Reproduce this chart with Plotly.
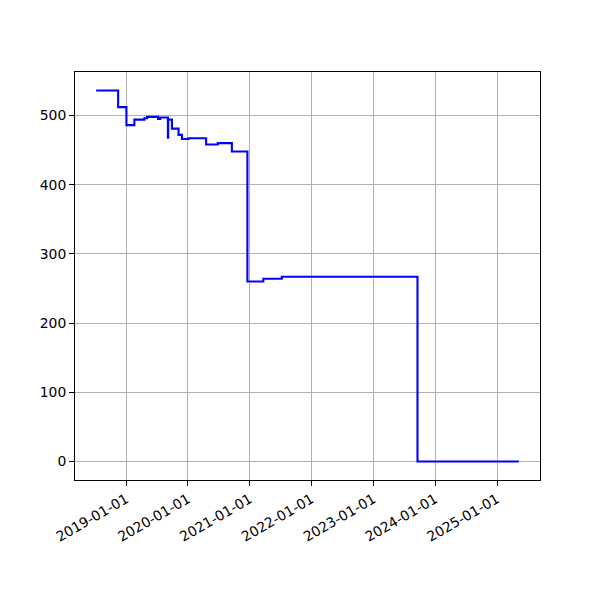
import pandas as pd
import plotly.graph_objects as go

dates = ["2018-07-08", "2018-11-15", "2019-01-03", "2019-02-19", "2019-04-19",
         "2019-05-05", "2019-07-09", "2019-07-22", "2019-09-05", "2019-09-07",
         "2019-09-29", "2019-11-07", "2019-11-27", "2020-01-05", "2020-04-18",
         "2020-06-26", "2020-09-17", "2020-12-18", "2021-03-22", "2021-07-09",
         "2023-09-19", "2025-05-10"]
values = [536, 512, 486, 494, 496,
          498, 495, 497, 468, 494,
          481, 472, 466, 467, 458,
          460, 448, 260, 264, 267,
          0, 0]
y_ticks = [0, 100, 200, 300, 400, 500]

dt = pd.to_datetime(dates)
span = dt.max() - dt.min()
x_range = [dt.min() - span * 0.05, dt.max() + span * 0.05]
vmin, vmax = min(values), max(values)
ypad = (vmax - vmin) * 0.05
y_range = [vmin - ypad, vmax + ypad]

fig = go.Figure()
fig.add_trace(go.Scatter(x=dt, y=values, mode="lines", line_shape="hv",
                         line=dict(color="blue", width=2.1), showlegend=False))

font = dict(family="DejaVu Sans", size=13.9, color="black")
axis_common = dict(showline=True, linecolor="black", linewidth=1.1, mirror=True,
                   showgrid=True, gridcolor="#b0b0b0", gridwidth=1.1,
                   ticks="outside", ticklen=4.9, tickwidth=1.1, tickcolor="black",
                   zeroline=False, tickfont=font)

fig.update_xaxes(type="date", range=x_range, tick0="2019-01-01", dtick="M12",
                 tickformat="%Y-%m-%d", tickangle=-30, **axis_common)
fig.update_yaxes(range=y_range, tickvals=y_ticks, **axis_common)

fig.update_layout(width=600, height=600,
                  margin=dict(l=67, r=68, t=64, b=128, autoexpand=False),
                  plot_bgcolor="white", paper_bgcolor="white", font=font)

fig.write_html("out.html")
